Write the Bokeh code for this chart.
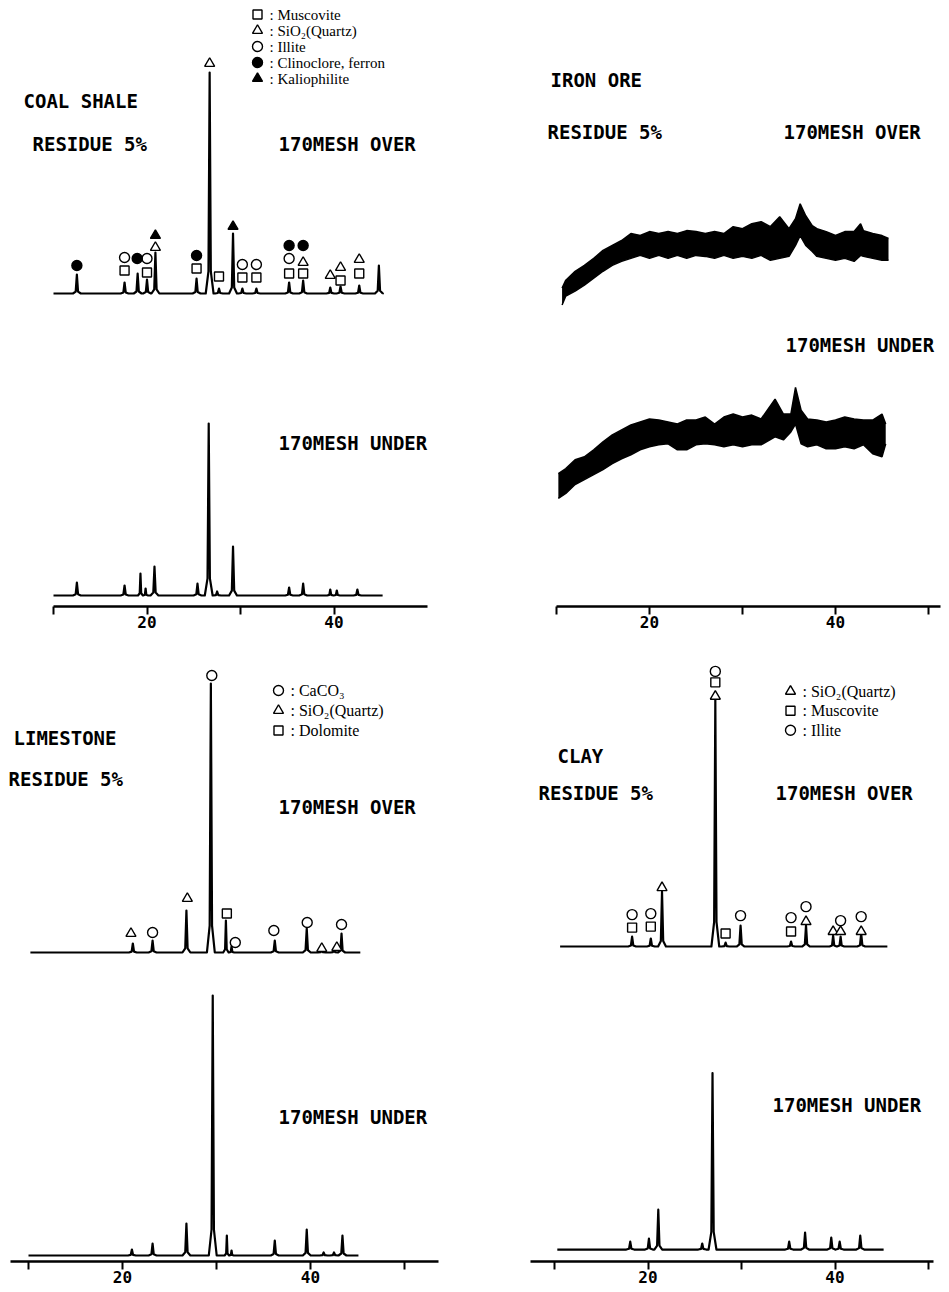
from bokeh.plotting import figure
from bokeh.models import Range1d, FixedTicker, Label
from bokeh.layouts import row, column
from bokeh.embed import file_html
from bokeh.resources import INLINE

# ---------------- data (2-theta in degrees, intensity in arbitrary units) ----------------
TICKS_TL = [10, 20, 30, 40]
TICKS = [10, 20, 30, 40, 50]
TICK_TEXT = {10: "", 20: "20", 30: "", 40: "40", 50: ""}

# Coal shale
coal_over_pos = [12.5, 17.6, 19.0, 20.0, 20.9, 25.3, 26.7, 27.7, 29.2, 30.2, 31.7, 35.2, 36.7, 39.6, 40.7, 42.7, 44.8]
coal_over_int = [19, 11, 20, 14, 41, 15, 221, 5, 60, 5, 5, 11, 13, 6, 7, 8, 28]
coal_under_pos = [12.5, 17.6, 19.3, 19.85, 20.8, 25.4, 26.6, 27.5, 29.2, 35.2, 36.7, 39.6, 40.3, 42.5]
coal_under_int = [13, 10, 22, 7, 29, 12, 172, 4, 49, 8, 12, 6, 5, 6]
coal_span = [10.0, 45.2]
coal_muscovite_pos = [17.6, 20.0, 25.3, 27.7, 30.2, 31.7, 35.2, 36.7, 40.7, 42.7]
coal_muscovite_int = [23, 21, 25, 17, 16, 16, 20, 20, 13, 20]
coal_quartz_pos = [20.9, 26.7, 36.7, 39.6, 40.7, 42.7]
coal_quartz_int = [46, 230, 31, 18, 26, 34]
coal_illite_pos = [17.6, 20.0, 30.2, 31.7, 35.2]
coal_illite_int = [36, 35, 29, 29, 35]
coal_clino_pos = [12.5, 18.95, 25.3, 35.2, 36.7]
coal_clino_int = [28, 35, 38, 48, 48]
coal_kalio_pos = [20.9, 29.2]
coal_kalio_int = [58, 67]

# Iron ore (noisy trace: lower / upper envelope)
iron_over_pos = [10.6, 11, 12, 13, 14, 15, 16, 17, 18, 19, 20, 21, 22, 23, 24, 25, 26, 27, 28, 29, 30,
                 31, 32, 33, 34, 35, 35.7, 36.2, 36.8, 37.5, 38, 39, 40, 41, 42, 42.7, 43, 44, 45, 45.7]
iron_over_hi = [21, 29, 38, 44, 51, 59, 64, 69, 76, 74, 78, 76, 78, 76, 79, 78, 76, 78, 76, 83, 81,
                86, 88, 83, 93, 81, 91, 106, 94, 84, 81, 78, 74, 78, 78, 86, 79, 76, 74, 71]
iron_over_lo = [4, 13, 18, 24, 31, 38, 44, 48, 51, 54, 51, 54, 51, 54, 51, 54, 53, 51, 54, 51, 53,
                51, 54, 49, 51, 53, 64, 74, 64, 58, 53, 51, 49, 51, 48, 54, 53, 51, 49, 49]
iron_under_pos = [10.2, 11, 12, 13, 14, 15, 16, 17, 18, 19, 20, 21, 22, 23, 24, 25, 26, 27, 28, 29, 30,
                  31, 32, 33.5, 34.4, 35.2, 35.7, 36.3, 37, 38, 39, 40, 41, 42, 43, 44, 45, 45.4]
iron_under_hi = [34, 39, 48, 51, 58, 66, 73, 78, 83, 86, 89, 88, 86, 84, 88, 88, 91, 84, 91, 94, 91,
                 93, 89, 109, 94, 94, 121, 98, 89, 88, 86, 88, 91, 89, 88, 88, 94, 84]
iron_under_lo = [9, 14, 23, 28, 33, 38, 44, 49, 53, 58, 61, 63, 64, 58, 58, 63, 64, 63, 61, 63, 61,
                 63, 63, 71, 68, 76, 84, 64, 61, 63, 59, 59, 61, 59, 63, 54, 51, 64]

# Limestone
lime_over_pos = [21.1, 23.2, 26.8, 29.4, 31.0, 31.6, 36.2, 39.6, 41.2, 42.5, 43.3]
lime_over_int = [9, 12, 42, 269, 32, 6, 12, 24, 3, 3, 19]
lime_under_pos = [21.0, 23.2, 26.8, 29.6, 31.1, 31.6, 36.2, 39.6, 41.4, 42.5, 43.4]
lime_under_int = [6, 12, 32, 260, 20, 5, 15, 26, 3, 3, 20]
lime_over_span = [10.2, 45.3]
lime_under_span = [10.0, 45.1]
lime_caco3_pos = [23.2, 29.5, 32.0, 36.1, 39.65, 43.3]
lime_caco3_int = [20, 277, 10, 22, 30, 28]
lime_quartz_pos = [20.9, 26.9, 41.2, 42.8]
lime_quartz_int = [19, 54, 4, 5]
lime_dolomite_pos = [31.1]
lime_dolomite_int = [39]

# Clay
clay_over_pos = [18.3, 20.3, 21.5, 27.2, 28.3, 29.9, 35.3, 36.9, 39.8, 40.6, 42.8]
clay_over_int = [10, 8, 55, 248, 4, 21, 5, 21, 11, 10, 13]
clay_under_pos = [18.1, 20.1, 21.1, 25.8, 26.9, 35.1, 36.8, 39.6, 40.5, 42.7]
clay_under_int = [8, 11, 40, 6, 177, 8, 17, 12, 8, 14]
clay_over_span = [10.6, 45.6]
clay_under_span = [10.3, 45.2]
clay_quartz_pos = [21.5, 27.2, 36.9, 39.8, 40.6, 42.8]
clay_quartz_int = [59, 251, 25, 15, 15, 15]
clay_muscovite_pos = [18.3, 20.3, 27.2, 28.3, 35.3]
clay_muscovite_int = [19, 20, 265, 13, 15]
clay_illite_pos = [18.3, 20.3, 27.2, 29.9, 35.3, 36.9, 40.6, 42.8]
clay_illite_int = [32, 33, 276, 31, 29, 40, 26, 30]

# ---------------- styling helpers ----------------
MONO = "DejaVu Sans Mono"
SERIF = "Liberation Serif"

MARKERS = {
    "square": dict(marker="square", size=9, fill_color="white"),
    "triangle": dict(marker="triangle", size=10, fill_color="white"),
    "circle": dict(marker="circle", size=10, fill_color="white"),
    "fcircle": dict(marker="circle", size=10, fill_color="black"),
    "ftriangle": dict(marker="triangle", size=10, fill_color="black"),
}


class Panel:
    def __init__(self, width, height, page_left, page_top, x10, scale, axis_ref, border_bottom, bounds, ticks):
        self.x10, self.scale, self.axis_ref = x10, scale, axis_ref
        frame_h = height - border_bottom
        x0 = 10 + (page_left - x10) / scale
        x1 = 10 + (page_left + width - x10) / scale
        p = figure(width=width, height=height, x_range=Range1d(x0, x1), y_range=Range1d(0, frame_h),
                   output_backend="svg", toolbar_location=None, y_axis_location=None,
                   min_border_left=0, min_border_right=0, min_border_top=0,
                   min_border_bottom=border_bottom, outline_line_color=None)
        p.xgrid.visible = False
        p.ygrid.visible = False
        ax = p.xaxis[0]
        ax.ticker = FixedTicker(ticks=ticks)
        ax.major_label_overrides = {t: TICK_TEXT[t] for t in ticks}
        ax.bounds = bounds
        ax.axis_line_width = 2.5
        ax.major_tick_line_width = 2
        ax.major_tick_in = 0
        ax.major_tick_out = 8
        ax.minor_tick_line_color = None
        ax.major_label_standoff = 1
        ax.major_label_text_font = MONO
        ax.major_label_text_font_style = "bold"
        ax.major_label_text_font_size = "16px"
        ax.major_label_text_color = "black"
        self.p = p

    def pos(self, px, py):
        return 10 + (px - self.x10) / self.scale, self.axis_ref - py

    def label(self, px, py, text, font=MONO, size="19px", bold=True):
        x, y = self.pos(px, py)
        self.p.add_layout(Label(x=x, y=y, text=text, text_font=font, text_font_size=size,
                                text_font_style="bold" if bold else "normal",
                                text_baseline="middle", text_align="left", text_color="black"))

    def trace(self, span, pos, inten, offset):
        order = sorted(range(len(pos)), key=lambda i: pos[i])
        px = [pos[i] for i in order]
        ph = [inten[i] for i in order]
        xs, ys = [span[0]], [offset]
        for k, (c, h) in enumerate(zip(px, ph)):
            gaps = [0.42]
            if k > 0:
                gaps.append(0.48 * (c - px[k - 1]))
            if k < len(px) - 1:
                gaps.append(0.48 * (px[k + 1] - c))
            w = min(gaps)
            xs += [c - w, c - 0.3 * w, c, c + 0.3 * w, c + w]
            ys += [offset, offset + 0.1 * h, offset + h, offset + 0.1 * h, offset]
        xs.append(span[1])
        ys.append(offset)
        self.p.line(xs, ys, line_color="black", line_width=2.2, line_join="round")

    def band(self, pos, lo, hi, offset):
        self.p.varea(x=pos, y1=[offset + v for v in lo], y2=[offset + v for v in hi], fill_color="black")
        self.p.line(pos, [offset + v for v in lo], line_color="black", line_width=1.5)
        self.p.line(pos, [offset + v for v in hi], line_color="black", line_width=1.5)

    def marks(self, kind, pos, inten, offset):
        self.p.scatter(pos, [offset + v for v in inten], line_color="black", line_width=1.4, **MARKERS[kind])

    def legend(self, px, py0, dy, kinds, texts, size="15px"):
        for i, (k, t) in enumerate(zip(kinds, texts)):
            x, y = self.pos(px, py0 + i * dy)
            self.p.scatter([x], [y], line_color="black", line_width=1.4, **MARKERS[k])
            self.label(px + 12, py0 + i * dy, ": " + t, font=SERIF, size=size, bold=False)


# ---------------- panels ----------------
TL = Panel(474, 640, 0, 0, 53, 9.35, 606, 34, (10, 50), TICKS_TL)
TR = Panel(474, 640, 474, 0, 556, 9.3, 611, 29, (10, 51.3), TICKS)
BL = Panel(474, 650, 0, 640, 28, 9.4, 1261, 29, (8.1, 53.6), TICKS)
BR = Panel(474, 650, 474, 640, 554, 9.35, 1264, 27, (7.4, 50.5), TICKS)

# Coal shale
TL.trace(coal_span, coal_over_pos, coal_over_int, 313)
TL.trace(coal_span, coal_under_pos, coal_under_int, 11)
TL.marks("square", coal_muscovite_pos, coal_muscovite_int, 313)
TL.marks("triangle", coal_quartz_pos, coal_quartz_int, 313)
TL.marks("circle", coal_illite_pos, coal_illite_int, 313)
TL.marks("fcircle", coal_clino_pos, coal_clino_int, 313)
TL.marks("ftriangle", coal_kalio_pos, coal_kalio_int, 313)
TL.legend(257, 14, 16, ["square", "triangle", "circle", "fcircle", "ftriangle"],
          ["Muscovite", "SiO\u2082(Quartz)", "Illite", "Clinoclore, ferron", "Kaliophilite"], size="15px")
TL.label(23, 100, "COAL SHALE")
TL.label(32, 143, "RESIDUE 5%")
TL.label(278, 143, "170MESH OVER")
TL.label(278, 442, "170MESH UNDER")

# Iron ore
TR.band(iron_over_pos, iron_over_lo, iron_over_hi, 300)
TR.band(iron_under_pos, iron_under_lo, iron_under_hi, 100)
TR.label(550, 80, "IRON ORE")
TR.label(547, 133, "RESIDUE 5%")
TR.label(783, 133, "170MESH OVER")
TR.label(785, 347, "170MESH UNDER")

# Limestone
BL.trace(lime_over_span, lime_over_pos, lime_over_int, 309)
BL.trace(lime_under_span, lime_under_pos, lime_under_int, 6)
BL.marks("circle", lime_caco3_pos, lime_caco3_int, 309)
BL.marks("triangle", lime_quartz_pos, lime_quartz_int, 309)
BL.marks("square", lime_dolomite_pos, lime_dolomite_int, 309)
BL.legend(278, 690, 20, ["circle", "triangle", "square"], ["CaCO\u2083", "SiO\u2082(Quartz)", "Dolomite"], size="16px")
BL.label(13, 737, "LIMESTONE")
BL.label(8, 778, "RESIDUE 5%")
BL.label(278, 806, "170MESH OVER")
BL.label(278, 1116, "170MESH UNDER")

# Clay
BR.trace(clay_over_span, clay_over_pos, clay_over_int, 316)
BR.trace(clay_under_span, clay_under_pos, clay_under_int, 12)
BR.marks("triangle", clay_quartz_pos, clay_quartz_int, 316)
BR.marks("square", clay_muscovite_pos, clay_muscovite_int, 316)
BR.marks("circle", clay_illite_pos, clay_illite_int, 316)
BR.legend(790, 692, 19.5, ["triangle", "square", "circle"], ["SiO\u2082(Quartz)", "Muscovite", "Illite"], size="16px")
BR.label(557, 757, "CLAY")
BR.label(538, 794, "RESIDUE 5%")
BR.label(775, 794, "170MESH OVER")
BR.label(772, 1107, "170MESH UNDER")

layout = column(row(TL.p, TR.p), row(BL.p, BR.p))
open("out.html", "w").write(file_html(layout, INLINE, title="XRD patterns"))
